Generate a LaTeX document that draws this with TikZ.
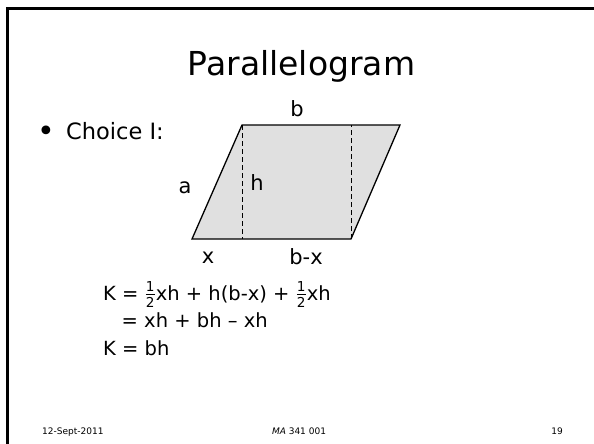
\documentclass[tikz,border=0pt]{standalone}
\usepackage{fontspec}
\usepackage{amsmath}
\setmainfont{DejaVu Sans}
\definecolor{shade}{HTML}{E0E0E0}
\newcommand{\halfF}{\ensuremath{\tfrac{\text{1}}{\text{2}}}}
\begin{document}
\begin{tikzpicture}[x=1pt,y=-1pt,
  lbl/.style={inner sep=0pt,font=\fontsize{21}{24}\selectfont},
  bodytext/.style={inner sep=0pt,anchor=base west,font=\fontsize{19.5}{24}\selectfont},
  foot/.style={inner sep=0pt,anchor=base,font=\fontsize{9}{11}\selectfont},
  edge/.style={line width=1.3pt},
  guide/.style={line width=0.9pt,dash pattern=on 5pt off 3pt}]
\useasboundingbox (0,0) rectangle (594,444);
% slide frame (top and left edges)
\draw[line width=2.6pt] (7.5,444) -- (7.5,8.5) -- (594,8.5);
% title
\node[inner sep=0pt,anchor=base,font=\fontsize{33}{38}\selectfont] (title) at (301.5,75) {Parallelogram};
% bullet
\node[inner sep=0pt,font=\fontsize{30}{34}\selectfont] (bullet) at (46,134) {\textbullet};
\node[inner sep=0pt,anchor=base west,font=\fontsize{22.5}{27}\selectfont] (choice) at (66,139) {Choice I:};
% parallelogram
\coordinate (A) at (192,239);
\coordinate (B) at (351,239);
\coordinate (C) at (400,125);
\coordinate (D) at (242,125);
\coordinate (F) at (242,239);
\coordinate (G) at (351,125);
\draw[edge,fill=shade] (A) -- (B) -- (C) -- (D) -- cycle;
\draw[guide] (D) -- (F);
\draw[guide] (B) -- (G);
% labels
\node[lbl] (lb) at (297,109) {b};
\node[lbl] (la) at (185,188) {a};
\node[lbl] (lh) at (257,183) {h};
\node[lbl] (lx) at (208,258) {x};
\node[lbl] (lbx) at (306,257) {b-x};
% equations
\node[bodytext] (eq1) at (103,300) {K = \halfF xh + h(b-x) + \halfF xh};
\node[bodytext] (eq2) at (121.5,327) {= xh + bh – xh};
\node[bodytext] (eq3) at (103,355) {K = bh};
% footer
\node[foot,anchor=base west] (date) at (42,434) {12-Sept-2011};
\node[foot] (course) at (299,434) {\textit{MA} 341 001};
\node[foot] (page) at (557,434) {19};
\end{tikzpicture}
\end{document}
